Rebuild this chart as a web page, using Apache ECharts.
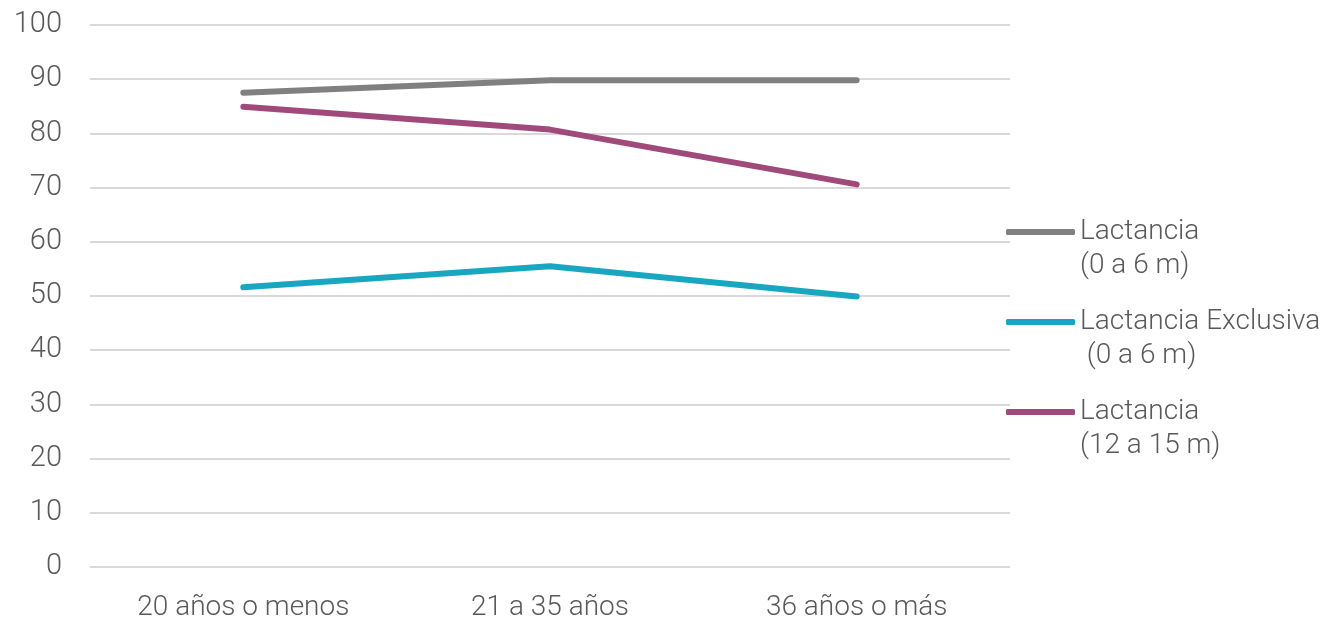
<!DOCTYPE html>
<html><head><meta charset="utf-8">
<script src="https://cdn.jsdelivr.net/npm/echarts@6/dist/echarts.min.js"></script>
<style>html,body{margin:0;padding:0;background:#fff}#c{width:1327px;height:622px}</style>
</head><body><div id="c"></div>
<script>
const categories = ['20 años o menos', '21 a 35 años', '36 años o más'];
const seriesNames = ['Lactancia\n(0 a 6 m)', 'Lactancia Exclusiva\n (0 a 6 m)', 'Lactancia\n(12 a 15 m)'];
const lactancia06 = [87.5, 89.8, 89.8];
const exclusiva06 = [51.6, 55.5, 49.9];
const lactancia1215 = [84.9, 80.7, 70.6];
const yTicks = { min: 0, max: 100, interval: 10 };

const colors = ['#808080', '#18a6c0', '#a04a7b'];
const FONT = 'Roboto';
const FW = 300;
const LH = 34;
const legendTops = [232, 322, 412];

const chart = echarts.init(document.getElementById('c'));
const values = [lactancia06, exclusiva06, lactancia1215];
chart.setOption({
  animation: false,
  grid: { left: 90, right: 317, top: 25, bottom: 54 },
  xAxis: {
    type: 'category', data: categories, boundaryGap: true,
    axisLine: { show: false }, axisTick: { show: false },
    axisLabel: { color: '#595959', fontSize: 28, fontWeight: FW, fontFamily: FONT, margin: 27 }
  },
  yAxis: {
    type: 'value', min: yTicks.min, max: yTicks.max, interval: yTicks.interval,
    axisLine: { show: false }, axisTick: { show: false },
    axisLabel: { color: '#595959', fontSize: 29, fontWeight: FW, fontFamily: FONT, margin: 28 },
    splitLine: { lineStyle: { color: '#d9d9d9', width: 2 } }
  },
  legend: seriesNames.map((n, i) => ({
    data: [n], orient: 'vertical', left: 1001,
    top: legendTops[i] - 1.5 * LH - 5,
    icon: 'roundRect', itemWidth: 69, itemHeight: 6, itemGap: 0,
    selectedMode: false,
    formatter: name => '\n' + name,
    textStyle: { color: '#595959', fontSize: 28, fontWeight: FW, fontFamily: FONT, lineHeight: LH }
  })),
  series: seriesNames.map((n, i) => ({
    name: n, type: 'line', data: values[i], symbol: 'none',
    lineStyle: { color: colors[i], width: 6, cap: 'round' },
    itemStyle: { color: colors[i] }
  }))
});
</script></body></html>
